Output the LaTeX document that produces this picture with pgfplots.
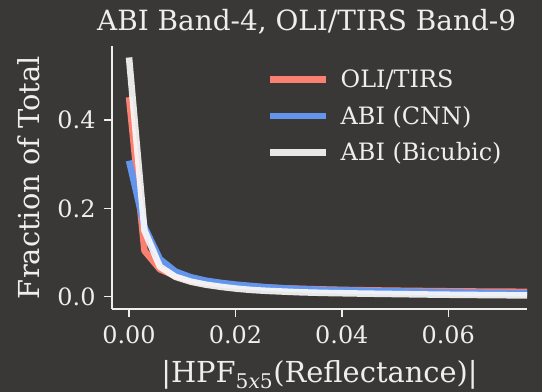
\documentclass[border=0pt]{standalone}
\usepackage{fontspec}
\setmainfont{DejaVu Serif}
\usepackage{pgfplots}
\usepackage{pgfplotstable}
\pgfplotsset{compat=1.18}
\definecolor{bg}{RGB}{58,56,54}
\definecolor{fg}{RGB}{238,238,238}
\definecolor{salmon}{RGB}{250,128,114}
\definecolor{cblue}{RGB}{100,149,237}
\definecolor{wsmoke}{RGB}{252,252,252}

\pgfplotstableread{
x      oli     cnn     bic
0.0000 0.452   0.308   0.542
0.0029 0.104   0.158   0.150
0.0058 0.062   0.085   0.068
0.0087 0.047   0.057   0.045
0.0116 0.038   0.044   0.034
0.0145 0.032   0.036   0.027
0.0174 0.028   0.031   0.022
0.0203 0.025   0.027   0.018
0.0232 0.0225  0.024   0.015
0.0261 0.0205  0.021   0.013
0.0290 0.0190  0.019   0.0115
0.0319 0.0178  0.0175  0.010
0.0348 0.0168  0.016   0.009
0.0377 0.0160  0.015   0.0082
0.0406 0.0152  0.0142  0.0076
0.0435 0.0146  0.0135  0.0070
0.0464 0.0141  0.0128  0.0065
0.0493 0.0136  0.0122  0.0060
0.0522 0.0132  0.0115  0.0055
0.0551 0.0128  0.0110  0.0050
0.0580 0.0124  0.0104  0.0046
0.0609 0.0121  0.0098  0.0042
0.0638 0.0118  0.0092  0.0039
0.0667 0.0115  0.0088  0.0036
0.0696 0.0113  0.0084  0.0033
0.0725 0.0111  0.0080  0.0030
0.0754 0.0109  0.0077  0.0028
}\datatable

\begin{document}
\begin{tikzpicture}
\fill[bg] (0bp,0bp) rectangle (542bp,392bp);
\begin{axis}[
  at={(112bp,83bp)}, anchor=south west,
  scale only axis, width=415bp, height=263bp,
  xmin=-0.0032, xmax=0.0748, ymin=-0.028, ymax=0.568,
  axis x line*=bottom, axis y line*=left,
  axis line style={-, color=fg, line width=1.5bp},
  xtick={0,0.02,0.04,0.06}, ytick={0,0.2,0.4},
  scaled x ticks=false, scaled y ticks=false,
  xticklabel style={/pgf/number format/fixed, /pgf/number format/fixed zerofill, /pgf/number format/precision=2, yshift=-5bp},
  yticklabel style={/pgf/number format/fixed, /pgf/number format/fixed zerofill, /pgf/number format/precision=1, xshift=-5bp},
  /pgf/number format/assume math mode=true,
  tick align=outside, major tick length=8bp,
  tick style={color=fg, line width=1.5bp},
  tick label style={color=fg, font=\fontsize{24}{28}\selectfont},
  label style={color=fg, font=\fontsize{29}{34}\selectfont},
  xlabel={|HPF\textsubscript{5\textit{x}5}(Reflectance)|},
  ylabel={Fraction of Total},
  xlabel style={at={(axis description cs:0.5,-0.2776)}, anchor=base},
  ylabel style={at={(axis description cs:-0.2,0.5)}, anchor=center},
  title={ABI Band-4, OLI/TIRS Band-9},
  title style={color=fg, font=\fontsize{28}{33}\selectfont, at={(axis description cs:0.469,1.035)}, anchor=base},
  legend style={at={(axis description cs:0.3735,0.918)}, anchor=north west,
    draw=none, fill=none, text=fg, font=\fontsize{24}{28}\selectfont,
    row sep=13bp, inner sep=0pt,
    /tikz/every odd column/.append style={column sep=9bp}},
  legend cell align=left,
  legend image code/.code={\draw[#1] (0bp,0bp) -- (56bp,0bp);},
  every axis plot/.append style={line width=6.5bp, line join=round},
]
\addplot[color=salmon] table[x=x, y=oli] {\datatable};
\addlegendentry{OLI/TIRS}
\addplot[color=cblue] table[x=x, y=cnn] {\datatable};
\addlegendentry{ABI (CNN)}
\addplot[color=wsmoke, opacity=0.9] table[x=x, y=bic] {\datatable};
\addlegendentry{ABI (Bicubic)}
\end{axis}
\pgfresetboundingbox
\path (0bp,0bp) rectangle (542bp,392bp);
\end{tikzpicture}
\end{document}
